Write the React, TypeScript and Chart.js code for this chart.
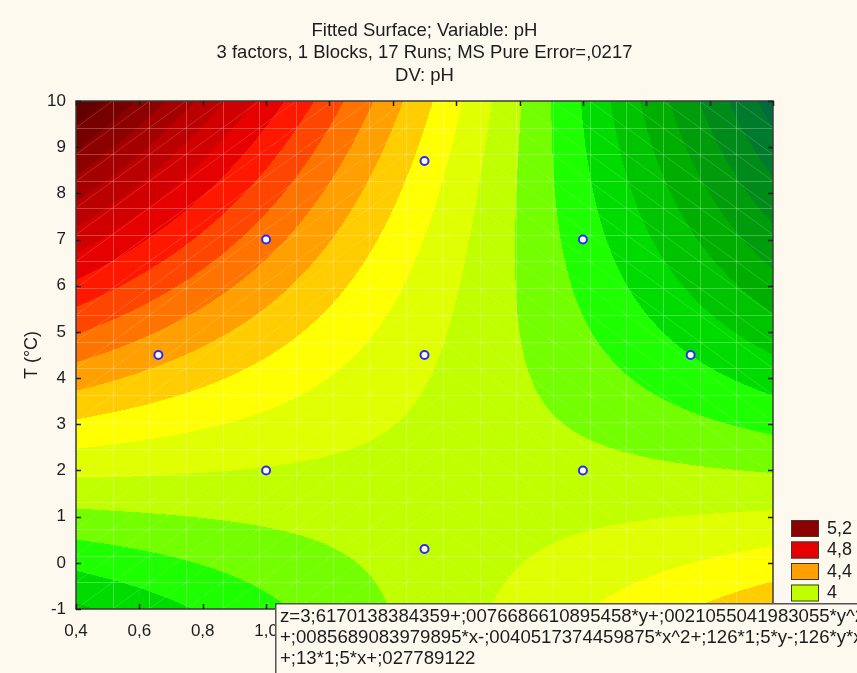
import React, { useEffect, useRef } from "react";
import { Chart, registerables } from "chart.js";

Chart.register(...registerables);

const FONT = '"Liberation Sans", Arial, Helvetica, sans-serif';
const PAGE_BG = "#fdf9ef";
const TEXT = "#1c1c1c";
const FRAME = "#3a3a3a";

const TITLE_LINES = [
  "Fitted Surface; Variable: pH",
  "3 factors, 1 Blocks, 17 Runs; MS Pure Error=,0217",
  "DV: pH",
];
const Y_TITLE = "T (°C)";

// axis ranges
const X_MIN = 0.4;
const X_MAX = 2.6;
const X_STEP = 0.2;
const T_MIN = -1;
const T_MAX = 10;
const T_STEP = 1;

// experimental runs (horizontal factor, temperature)
const RUN_X = [0.66, 1.0, 1.0, 1.5, 1.5, 1.5, 2.0, 2.0, 2.34];
const RUN_T = [4.5, 2.0, 7.0, 8.7, 4.5, 0.3, 7.0, 2.0, 4.5];

// fitted surface terms, as printed in the equation box
const COEF_CONST = 3.6170138384359;
const COEF_T = 0.0076686610895458;
const COEF_TT = 0.0021055041983055;
const COEF_X = 0.0085689083979895;
const COEF_XX = -0.0040517374459875;
const COEF_T_FIXED = 0.126 * 1.5;
const COEF_XT = -0.126;
const COEF_X_FIXED = 0.13 * 1.5;
const COEF_TAIL = 0.027789122;

// contour levels and the fill of each band between consecutive levels
const LEVELS = [
  3.0, 3.1, 3.2, 3.3, 3.4, 3.5, 3.6, 3.7, 3.8, 3.9, 4.0, 4.1, 4.2, 4.3, 4.4,
  4.5, 4.6, 4.7, 4.8, 4.9, 5.0, 5.1, 5.2, 5.3, 5.4, 5.5,
];
const BAND_COLORS = [
  "#006b3c", "#007a2c", "#008a1a", "#009c0c", "#00ae00", "#00c400", "#00dc00",
  "#1eff00", "#74ff00", "#c0ff00", "#e0ff00", "#ffff00", "#ffcc00", "#ffa000",
  "#ff7400", "#ff4600", "#ff1800", "#e60000", "#d00000", "#ba0000", "#a40000",
  "#8c0000", "#760000", "#620000", "#500000",
];
const LEGEND_LEVELS = [5.2, 4.8, 4.4, 4.0];

const EQUATION_LINES = [
  "z=3;6170138384359+;0076686610895458*y+;0021055041983055*y^2",
  "+;0085689083979895*x-;0040517374459875*x^2+;126*1;5*y-;126*y*x",
  "+;13*1;5*x+;027789122",
];

const MESH_STEPS = 19;

function fitted(x: number, t: number): number {
  return (
    COEF_CONST +
    COEF_T * t +
    COEF_TT * t * t +
    COEF_X * x +
    COEF_XX * x * x +
    COEF_T_FIXED * t +
    COEF_XT * t * x +
    COEF_X_FIXED * x +
    COEF_TAIL
  );
}

function bandIndex(z: number): number {
  let k = 0;
  for (let i = 0; i < LEVELS.length; i++) if (z >= LEVELS[i]) k = i;
  return Math.min(k, BAND_COLORS.length - 1);
}

function hexToRgb(h: string): [number, number, number] {
  const n = parseInt(h.slice(1), 16);
  return [(n >> 16) & 255, (n >> 8) & 255, n & 255];
}

function levelLabel(v: number): string {
  return String(v).replace(".", ",");
}

const surfacePlugin = {
  id: "surface",
  beforeDraw(chart: any) {
    const { ctx, width, height } = chart;
    ctx.save();
    ctx.fillStyle = PAGE_BG;
    ctx.fillRect(0, 0, width, height);
    ctx.restore();
  },
  beforeDatasetsDraw(chart: any) {
    const { ctx, chartArea: a, scales } = chart;
    const xs = scales.x;
    const ys = scales.y;
    const left = Math.round(a.left);
    const top = Math.round(a.top);
    const w = Math.round(a.right) - left;
    const h = Math.round(a.bottom) - top;
    const off = document.createElement("canvas");
    off.width = w;
    off.height = h;
    const octx = off.getContext("2d")!;
    const img = octx.createImageData(w, h);
    const rgb = BAND_COLORS.map(hexToRgb);
    for (let j = 0; j < h; j++) {
      const t = ys.getValueForPixel(top + j + 0.5);
      for (let i = 0; i < w; i++) {
        const x = xs.getValueForPixel(left + i + 0.5);
        const c = rgb[bandIndex(fitted(x, t))];
        const p = (j * w + i) * 4;
        img.data[p] = c[0];
        img.data[p + 1] = c[1];
        img.data[p + 2] = c[2];
        img.data[p + 3] = 255;
      }
    }
    octx.putImageData(img, 0, 0);
    ctx.drawImage(off, left, top);

    // surface mesh
    const mx: number[] = [];
    const my: number[] = [];
    for (let k = 0; k <= MESH_STEPS; k++) {
      mx.push(xs.getPixelForValue(X_MIN + ((X_MAX - X_MIN) * k) / MESH_STEPS));
      my.push(ys.getPixelForValue(T_MIN + ((T_MAX - T_MIN) * k) / MESH_STEPS));
    }
    ctx.save();
    ctx.beginPath();
    ctx.rect(a.left, a.top, a.right - a.left, a.bottom - a.top);
    ctx.clip();
    ctx.lineWidth = 1;
    ctx.strokeStyle = "rgba(255,255,255,0.16)";
    ctx.beginPath();
    for (let i = 0; i < MESH_STEPS; i++) {
      for (let j = 0; j < MESH_STEPS; j++) {
        if (i < MESH_STEPS / 2) {
          ctx.moveTo(mx[i], my[j]);
          ctx.lineTo(mx[i + 1], my[j + 1]);
        } else {
          ctx.moveTo(mx[i], my[j + 1]);
          ctx.lineTo(mx[i + 1], my[j]);
        }
      }
    }
    ctx.stroke();
    ctx.strokeStyle = "rgba(255,255,255,0.26)";
    ctx.beginPath();
    for (let k = 1; k < MESH_STEPS; k++) {
      const px = Math.round(mx[k]) + 0.5;
      ctx.moveTo(px, a.top);
      ctx.lineTo(px, a.bottom);
      const py = Math.round(my[k]) + 0.5;
      ctx.moveTo(a.left, py);
      ctx.lineTo(a.right, py);
    }
    ctx.stroke();
    ctx.restore();
  },
  afterDatasetsDraw(chart: any) {
    const { ctx, chartArea: a, scales } = chart;
    ctx.save();
    ctx.strokeStyle = FRAME;
    ctx.lineWidth = 1.5;
    ctx.strokeRect(a.left, a.top, a.right - a.left, a.bottom - a.top);
    ctx.strokeStyle = "#1e1e1e";
    ctx.beginPath();
    for (const tk of scales.x.ticks) {
      const px = Math.round(scales.x.getPixelForValue(tk.value)) + 0.5;
      ctx.moveTo(px, a.bottom);
      ctx.lineTo(px, a.bottom - 5);
      ctx.moveTo(px, a.top);
      ctx.lineTo(px, a.top + 5);
    }
    for (const tk of scales.y.ticks) {
      const py = Math.round(scales.y.getPixelForValue(tk.value)) + 0.5;
      ctx.moveTo(a.left, py);
      ctx.lineTo(a.left + 5, py);
      ctx.moveTo(a.right, py);
      ctx.lineTo(a.right - 5, py);
    }
    ctx.stroke();
    ctx.restore();
  },
  afterDraw(chart: any) {
    const { ctx, chartArea: a, width, height } = chart;
    ctx.save();
    ctx.fillStyle = TEXT;
    ctx.font = `18.5px ${FONT}`;
    ctx.textAlign = "center";
    ctx.textBaseline = "middle";
    const cx = (a.left + a.right) / 2;
    TITLE_LINES.forEach((line, i) => ctx.fillText(line, cx, 31 + i * 22.3));

    // vertical axis title
    ctx.save();
    ctx.font = `18px ${FONT}`;
    ctx.translate(32, (a.top + a.bottom) / 2);
    ctx.rotate(-Math.PI / 2);
    ctx.fillText(Y_TITLE, 0, 0);
    ctx.restore();

    // legend
    ctx.font = `18px ${FONT}`;
    ctx.textAlign = "left";
    LEGEND_LEVELS.forEach((lv, i) => {
      const y0 = 520 + i * 21.5;
      const k = LEVELS.findIndex((v) => Math.abs(v - lv) < 1e-9) - 1;
      ctx.fillStyle = BAND_COLORS[k];
      ctx.fillRect(791, y0, 28, 17);
      ctx.strokeStyle = "#3a3a3a";
      ctx.lineWidth = 1;
      ctx.strokeRect(791.5, y0 + 0.5, 27, 16);
      ctx.fillStyle = TEXT;
      ctx.fillText(levelLabel(lv), 827, y0 + 9);
    });

    // equation box
    const bx = 275;
    const by = 603;
    ctx.fillStyle = PAGE_BG;
    ctx.fillRect(bx, by, width - bx, height - by);
    ctx.strokeStyle = "#555555";
    ctx.lineWidth = 1.5;
    ctx.beginPath();
    ctx.moveTo(bx + 0.75, height);
    ctx.lineTo(bx + 0.75, by + 0.75);
    ctx.lineTo(width, by + 0.75);
    ctx.stroke();
    ctx.fillStyle = TEXT;
    ctx.font = `18.6px ${FONT}`;
    ctx.textBaseline = "middle";
    EQUATION_LINES.forEach((line, i) => ctx.fillText(line, bx + 5, 617 + i * 21));
    ctx.restore();
  },
};

export default function App() {
  const ref = useRef<HTMLCanvasElement>(null);
  useEffect(() => {
    const canvas = ref.current;
    if (!canvas) return;
    const chart = new Chart(canvas, {
      type: "scatter",
      data: {
        datasets: [
          {
            data: RUN_X.map((x, i) => ({ x, y: RUN_T[i] })),
            pointRadius: 4,
            pointHoverRadius: 4,
            pointBorderWidth: 2,
            pointBorderColor: "#2a2aff",
            pointBackgroundColor: "#ffffff",
          },
        ],
      },
      options: {
        animation: false,
        responsive: false,
        devicePixelRatio: 1,
        events: [],
        layout: { padding: { top: 101, right: 84, bottom: 0, left: 0 } },
        plugins: {
          legend: { display: false },
          title: { display: false },
          tooltip: { enabled: false },
        },
        scales: {
          x: {
            type: "linear",
            min: X_MIN,
            max: X_MAX,
            afterFit: (s: any) => {
              s.height = 64;
            },
            grid: { display: false, drawTicks: false },
            border: { display: false },
            ticks: {
              stepSize: X_STEP,
              padding: 12,
              color: TEXT,
              autoSkip: false,
              maxRotation: 0,
              font: { family: FONT, size: 17 },
              callback: (v: any) => Number(v).toFixed(1).replace(".", ","),
            },
          },
          y: {
            type: "linear",
            min: T_MIN,
            max: T_MAX,
            afterFit: (s: any) => {
              s.width = 76;
            },
            grid: { display: false, drawTicks: false },
            border: { display: false },
            ticks: {
              stepSize: T_STEP,
              padding: 10,
              color: TEXT,
              autoSkip: false,
              font: { family: FONT, size: 17 },
              callback: (v: any) => String(Math.round(Number(v))),
            },
          },
        },
      },
      plugins: [surfacePlugin],
    } as any);
    return () => chart.destroy();
  }, []);
  return (
    <div style={{ position: "fixed", left: 0, top: 0, width: 857, height: 673, background: PAGE_BG }}>
      <canvas ref={ref} width={857} height={673} style={{ display: "block", width: 857, height: 673 }} />
    </div>
  );
}
